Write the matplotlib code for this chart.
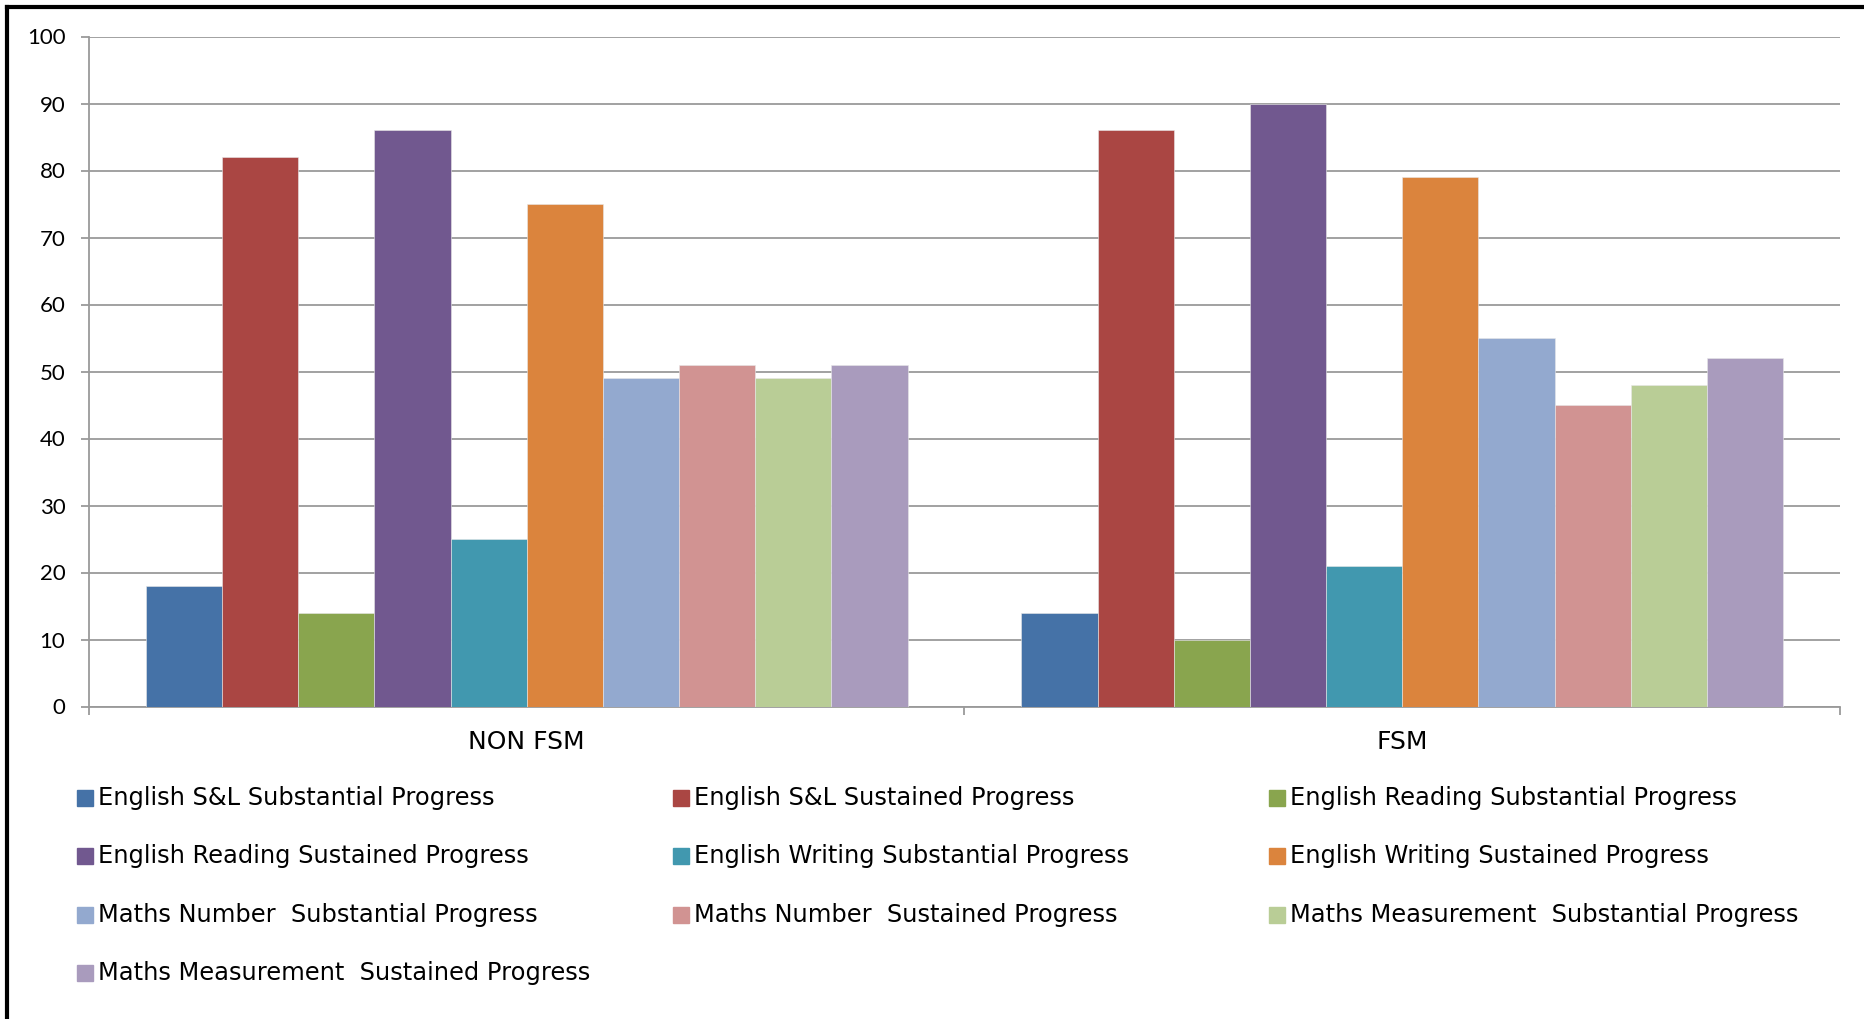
import matplotlib
matplotlib.use("Agg")
import matplotlib.pyplot as plt
from matplotlib.patches import Rectangle
from matplotlib.lines import Line2D
import numpy as np

# =========================
# DATA
# =========================
categories = ["NON FSM", "FSM"]
series = [
    "English S&L Substantial Progress",
    "English S&L Sustained Progress",
    "English Reading Substantial Progress",
    "English Reading Sustained Progress",
    "English Writing Substantial Progress",
    "English Writing Sustained Progress",
    "Maths Number  Substantial Progress",
    "Maths Number  Sustained Progress",
    "Maths Measurement  Substantial Progress",
    "Maths Measurement  Sustained Progress",
]
non_fsm = [18, 82, 14, 86, 25, 75, 49, 51, 49, 51]
fsm = [14, 86, 10, 90, 21, 79, 55, 45, 48, 52]
colors = ["#4572A7", "#AA4643", "#89A54E", "#71588F", "#4198AF",
          "#DB843D", "#93A9CF", "#D19392", "#B9CD96", "#A99BBD"]
yticks = [0, 10, 20, 30, 40, 50, 60, 70, 80, 90, 100]

FONT = "Lato"
TEXT_FONT = "DejaVu Sans"
W, H = 1865, 1019

# =========================
# PLOT
# =========================
fig = plt.figure(figsize=(W / 100, H / 100), dpi=100)
ax = fig.add_axes([89 / W, 1 - 706.5 / H, (1840 - 89) / W, (706.5 - 36.5) / H])

values = np.array([non_fsm, fsm])
x = np.arange(len(categories))
n = len(series)
width = 0.87 / n
for i in range(n):
    offs = (i - (n - 1) / 2) * width
    ax.bar(x + offs, values[:, i], width, color=colors[i],
           edgecolor="#e8e8e8", linewidth=0.4, zorder=3)

ax.set_ylim(0, 100)
ax.set_xlim(-0.5, len(categories) - 0.5)
ax.set_yticks(yticks)
ax.yaxis.grid(True, color="#9a9a9a", linewidth=1.3, zorder=0)
for s in ["top", "right"]:
    ax.spines[s].set_visible(False)
for s in ["left", "bottom"]:
    ax.spines[s].set_color("#9a9a9a")
    ax.spines[s].set_linewidth(1.3)
ax.tick_params(axis="y", length=6, width=1.3, color="#9a9a9a", pad=11,
               labelsize=16, labelcolor="black")
ax.set_xticks(x)
ax.set_xticklabels(categories, fontsize=18, fontfamily=TEXT_FONT)
ax.set_xticks(np.arange(-0.5, len(categories)), minor=True)
ax.tick_params(axis="x", which="major", length=0, pad=17)
ax.tick_params(axis="x", which="minor", length=6, width=1.3, color="#9a9a9a")
for lbl in ax.get_yticklabels():
    lbl.set_fontfamily(FONT)

# legend drawn by hand, 3 columns in row order
col_x = [77, 673, 1269]
row_y = [798, 856, 915, 973]
for i, name in enumerate(series):
    cx = col_x[i % 3]
    cy = row_y[i // 3]
    fig.patches.append(Rectangle((cx / W, 1 - (cy + 8) / H), 16 / W, 16 / H,
                                 transform=fig.transFigure, color=colors[i]))
    fig.text((cx + 21) / W, 1 - cy / H, name, fontsize=17.4, fontfamily=TEXT_FONT,
             va="center", ha="left")

# frame on left and top
fig.lines.append(Line2D([7 / W, 7 / W], [0, 1 - 7 / H], transform=fig.transFigure,
                        color="black", linewidth=3))
fig.lines.append(Line2D([7 / W, 1], [1 - 7 / H, 1 - 7 / H], transform=fig.transFigure,
                        color="black", linewidth=3))

fig.savefig("out.png", dpi=100)
plt.close(fig)
